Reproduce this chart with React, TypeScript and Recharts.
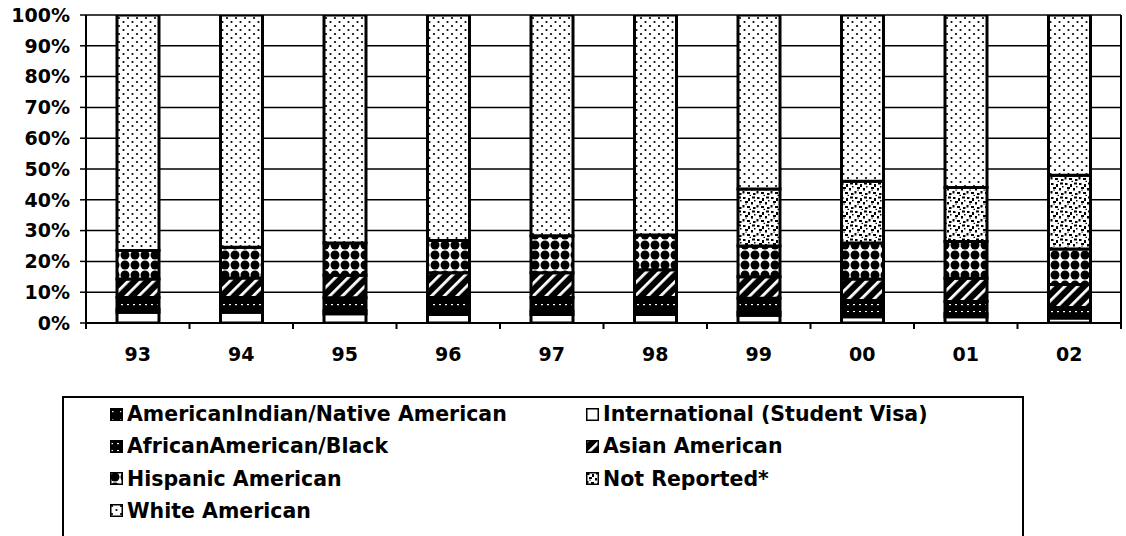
import { Bar, BarChart, CartesianGrid, XAxis, YAxis } from 'recharts';

const years = ['93', '94', '95', '96', '97', '98', '99', '00', '01', '02'];
const international = [3.5, 3.5, 3.0, 2.8, 2.8, 2.8, 2.5, 2.0, 2.0, 1.6];
const americanIndian = [1.0, 1.0, 1.0, 1.0, 1.0, 1.0, 1.0, 1.0, 1.0, 1.0];
const africanAmerican = [3.8, 3.8, 4.2, 4.5, 4.5, 4.5, 4.5, 4.3, 4.0, 2.4];
const asianAmerican = [6.0, 6.3, 7.3, 8.0, 8.0, 9.0, 7.0, 7.0, 7.5, 7.5];
const hispanicAmerican = [9.2, 10.0, 10.5, 10.5, 12.0, 11.3, 10.0, 11.7, 12.0, 11.5];
const notReported = [null, null, null, null, null, null, 18.5, 20.0, 17.5, 24.0];
const whiteAmerican = [76.5, 75.4, 74.0, 73.2, 71.7, 71.4, 56.5, 54.0, 56.0, 52.0];
const yTicks = [0, 10, 20, 30, 40, 50, 60, 70, 80, 90, 100];

// stacking order, bottom to top
const series = [
  { key: 'intl', name: 'International (Student Visa)', values: international, fill: '#fff' },
  { key: 'amind', name: 'AmericanIndian/Native American', values: americanIndian, fill: 'url(#p-amind)' },
  { key: 'afam', name: 'AfricanAmerican/Black', values: africanAmerican, fill: 'url(#p-afam)' },
  { key: 'asian', name: 'Asian American', values: asianAmerican, fill: 'url(#p-asian)' },
  { key: 'hisp', name: 'Hispanic American', values: hispanicAmerican, fill: 'url(#p-hisp)' },
  { key: 'notrep', name: 'Not Reported*', values: notReported, fill: 'url(#p-notrep)' },
  { key: 'white', name: 'White American', values: whiteAmerican, fill: 'url(#p-white)' },
];

// legend reads row by row in two columns
const legendOrder = ['amind', 'intl', 'afam', 'asian', 'hisp', 'notrep', 'white'];

const data = years.map((year, i) => {
  const row: Record<string, string | number | null> = { year };
  series.forEach((s) => {
    row[s.key] = s.values[i];
  });
  return row;
});

const FONT = '"DejaVu Sans", sans-serif';

function Patterns() {
  return (
    <svg width={0} height={0} style={{ position: 'absolute' }}>
      <defs>
        <pattern id="p-white" width={9} height={8} patternUnits="userSpaceOnUse">
          <rect width={9} height={8} fill="#fff" />
          <circle cx={2} cy={2} r={1.1} fill="#000" />
          <circle cx={6.5} cy={6} r={1.1} fill="#000" />
        </pattern>
        <pattern id="p-hisp" width={10} height={10} patternUnits="userSpaceOnUse">
          <rect width={10} height={10} fill="#fff" />
          <circle cx={5} cy={5} r={4.5} fill="#000" />
        </pattern>
        <pattern
          id="p-asian"
          width={9}
          height={9}
          patternUnits="userSpaceOnUse"
          patternTransform="rotate(45)"
        >
          <rect width={9} height={9} fill="#000" />
          <rect width={2.8} height={9} fill="#fff" />
        </pattern>
        <pattern id="p-afam" width={6} height={7} patternUnits="userSpaceOnUse">
          <rect width={6} height={7} fill="#000" />
          <rect x={1} y={3} width={2} height={1.2} fill="#fff" />
        </pattern>
        <pattern id="p-amind" width={8} height={8} patternUnits="userSpaceOnUse">
          <rect width={8} height={8} fill="#000" />
          <rect x={2} y={3} width={1.5} height={1.2} fill="#fff" />
        </pattern>
        <pattern id="p-notrep" width={14} height={14} patternUnits="userSpaceOnUse">
          <rect width={14} height={14} fill="#fff" />
          <rect x={1} y={1} width={2.5} height={2} fill="#000" />
          <rect x={6} y={2} width={2} height={3} fill="#000" />
          <rect x={10} y={0.5} width={3} height={2} fill="#000" />
          <rect x={3} y={5} width={3} height={2} fill="#000" />
          <rect x={9} y={6} width={2} height={2.5} fill="#000" />
          <rect x={12} y={4} width={1.5} height={1.5} fill="#000" />
          <rect x={0.5} y={9} width={2} height={2.5} fill="#000" />
          <rect x={5} y={10} width={3} height={2} fill="#000" />
          <rect x={11} y={11} width={2.5} height={2} fill="#000" />
          <rect x={7.5} y={12.8} width={1.5} height={1.2} fill="#000" />
          <rect x={3.5} y={7.5} width={1.2} height={1.2} fill="#000" />
        </pattern>
      </defs>
    </svg>
  );
}

function YearTick(props: any) {
  const { x, y, payload, index, width } = props;
  const step = (width ?? 1035) / years.length;
  return (
    <g>
      {index === 0 && (
        <line x1={x - step / 2} x2={x - step / 2} y1={y} y2={y + 6} stroke="#000" strokeWidth={2} />
      )}
      <line x1={x + step / 2} x2={x + step / 2} y1={y} y2={y + 6} stroke="#000" strokeWidth={2} />
      <text
        x={x}
        y={y + 38}
        textAnchor="middle"
        fontFamily={FONT}
        fontWeight="bold"
        fontSize={19}
        fill="#000"
      >
        {payload.value}
      </text>
    </g>
  );
}

function LegendBox() {
  return (
    <div
      style={{
        position: 'absolute',
        left: 62,
        top: 396,
        width: 962,
        height: 150,
        border: '2px solid #000',
        boxSizing: 'border-box',
        fontFamily: FONT,
        fontWeight: 'bold',
        fontSize: 20.5,
        color: '#000',
      }}
    >
      {legendOrder.map((key, i) => {
        const s = series.find((item) => item.key === key)!;
        return (
          <div
            key={key}
            style={{
              position: 'absolute',
              left: i % 2 === 0 ? 46 : 522,
              top: 2 + Math.floor(i / 2) * 32.3,
              display: 'flex',
              alignItems: 'center',
              whiteSpace: 'nowrap',
              lineHeight: '28px',
            }}
          >
            <svg width={13} height={13} style={{ marginRight: 4 }}>
              <rect x={0.75} y={0.75} width={11.5} height={11.5} fill={s.fill} stroke="#000" strokeWidth={1.5} />
            </svg>
            {s.name}
          </div>
        );
      })}
    </div>
  );
}

export default function App() {
  return (
    <div style={{ position: 'absolute', left: 0, top: 0, width: 1126, height: 536, background: '#fff' }}>
      <Patterns />
      <BarChart
        width={1126}
        height={390}
        data={data}
        margin={{ top: 15, right: 0, left: 0, bottom: 0 }}
        barSize={42}
      >
        <CartesianGrid vertical={false} stroke="#000" strokeWidth={1.5} />
        <XAxis
          dataKey="year"
          height={67}
          axisLine={{ stroke: '#000', strokeWidth: 2 }}
          tickLine={false}
          tickSize={0}
          tickMargin={0}
          tick={<YearTick />}
          interval={0}
        />
        <YAxis
          width={86}
          domain={[0, 100]}
          ticks={yTicks}
          allowDataOverflow
          tickFormatter={(v: number) => `${v}%`}
          axisLine={{ stroke: '#000', strokeWidth: 2 }}
          tickLine={{ stroke: '#000', strokeWidth: 1.5 }}
          tickSize={6}
          tickMargin={10}
          tick={{ fill: '#000', fontFamily: FONT, fontWeight: 'bold', fontSize: 19 }}
        />
        <YAxis
          yAxisId="frame"
          orientation="right"
          width={5}
          domain={[0, 100]}
          tick={false}
          tickLine={false}
          axisLine={{ stroke: '#000', strokeWidth: 2 }}
        />
        {series.map((s) => (
          <Bar
            key={s.key}
            dataKey={s.key}
            name={s.name}
            stackId="a"
            fill={s.fill}
            stroke="#000"
            strokeWidth={3}
            isAnimationActive={false}
          />
        ))}
      </BarChart>
      <LegendBox />
    </div>
  );
}
